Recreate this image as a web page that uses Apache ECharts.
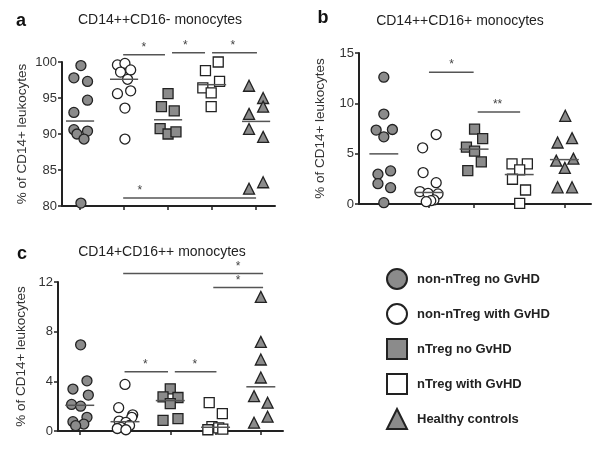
<!DOCTYPE html>
<html>
<head>
<meta charset="utf-8">
<script src="https://cdn.jsdelivr.net/npm/echarts@6/dist/echarts.min.js"></script>
<style>
  html, body { margin: 0; background: #fff; }
  #chart { width: 600px; height: 451px; }
</style>
</head>
<body>
<div id="chart"></div>
<script>
const groups = ['non-nTreg no GvHD', 'non-nTreg with GvHD', 'nTreg no GvHD', 'nTreg with GvHD', 'Healthy controls'];
const groupTicks = [0, 1, 2, 3, 4];

// a: CD14++CD16- monocytes, % of CD14+ leukocytes
const aValues = [
  [99.5, 97.8, 97.3, 94.7, 93.0, 90.6, 90.4, 90.0, 89.3, 80.4],
  [99.6, 99.8, 98.6, 98.9, 97.6, 95.6, 96.0, 93.6, 89.3],
  [95.6, 93.8, 93.2, 90.75, 90.0, 90.3],
  [100.0, 98.8, 97.3, 96.4, 95.7, 93.8],
  [96.7, 95.0, 93.8, 92.8, 90.7, 89.6, 83.3, 82.4]
];
// horizontal spread of the dots around each group, in group units
const aJitter = [
  [0.02, -0.14, 0.17, 0.17, -0.14, -0.14, 0.17, -0.07, 0.09, 0.02],
  [-0.15, 0.02, -0.08, 0.15, 0.08, -0.15, 0.15, 0.02, 0.02],
  [0, -0.15, 0.14, -0.18, 0, 0.18],
  [0.14, -0.15, 0.17, -0.21, -0.02, -0.02],
  [-0.16, 0.16, 0.16, -0.16, -0.16, 0.16, 0.16, -0.16]
];
// [from group, to group, level, star position, label]
const aSig = [
  [0.98, 1.93, 101.0, 1.45, '*'],
  [2.09, 2.84, 101.3, 2.39, '*'],
  [3.0, 4.02, 101.3, 3.47, '*'],
  [0.98, 4.0, 81.1, 1.36, '*']
];

// b: CD14++CD16+ monocytes
const bValues = [
  [12.6, 8.93, 7.34, 7.4, 6.67, 3.29, 2.96, 2.02, 1.62, 0.13],
  [6.9, 5.58, 3.12, 2.12, 1.23, 1.06, 1.0, 0.4, 0.33, 0.23],
  [7.44, 6.5, 5.65, 5.25, 4.18, 3.32],
  [3.98, 3.98, 3.39, 2.46, 1.39, 0.07],
  [8.76, 6.11, 6.54, 4.31, 4.51, 3.59, 1.66, 1.66]
];
const bJitter = [
  [0, 0, -0.17, 0.19, 0, 0.15, -0.13, -0.13, 0.15, 0],
  [0.16, -0.14, -0.13, 0.16, -0.2, -0.02, 0.2, 0.11, 0.04, -0.06],
  [0.01, 0.19, -0.17, 0.01, 0.16, -0.14],
  [-0.16, 0.18, 0.01, -0.15, 0.14, 0.01],
  [0.02, -0.15, 0.17, -0.18, 0.2, 0.01, -0.15, 0.17]
];
const bSig = [
  [1.0, 1.99, 13.1, 1.5, '*'],
  [2.08, 3.02, 9.13, 2.52, '**']
];

// c: CD14+CD16++ monocytes
const cValues = [
  [6.94, 4.04, 3.38, 2.89, 2.14, 2.0, 1.1, 0.75, 0.56, 0.43],
  [3.75, 1.88, 1.3, 1.1, 0.8, 0.7, 0.45, 0.3, 0.2, 0.1],
  [3.4, 2.75, 2.7, 2.2, 1.0, 0.85],
  [2.28, 1.4, 0.35, 0.25, 0.15, 0.1],
  [10.8, 7.18, 5.76, 4.31, 2.81, 2.28, 1.15, 0.67]
];
const cJitter = [
  [0.02, 0.16, -0.15, 0.19, -0.18, 0.02, 0.16, -0.15, 0.09, -0.09],
  [0, -0.14, 0.17, 0.15, -0.13, 0.02, 0.1, -0.09, -0.17, 0.02],
  [0, -0.16, 0.17, 0, 0.17, -0.16],
  [-0.14, 0.15, -0.08, 0.07, 0.16, -0.17],
  [0, 0, 0, 0, -0.15, 0.15, 0.15, -0.15]
];
const cSig = [
  [0.96, 4.05, 12.68, 3.5, '*'],
  [2.95, 4.05, 11.55, 3.5, '*'],
  [0.99, 1.95, 4.77, 1.45, '*'],
  [2.1, 3.02, 4.77, 2.54, '*']
];

const FONT = 'Liberation Sans, Arial, sans-serif';
const symbols = ['circle', 'circle', 'rect', 'rect', 'triangle'];
const fills = ['#8b8b8b', '#ffffff', '#8b8b8b', '#ffffff', '#8b8b8b'];

const median = arr => {
  const s = [...arr].sort((x, y) => x - y);
  const m = Math.floor(s.length / 2);
  return s.length % 2 ? s[m] : (s[m - 1] + s[m]) / 2;
};

const panels = [
  { values: aValues, jitter: aJitter, sig: aSig, min: 80, max: 100, interval: 5,
    grid: { left: 62, top: 62, width: 213, height: 144 }, xMin: -0.41, xMax: 4.43, nameGap: 33 },
  { values: bValues, jitter: bJitter, sig: bSig, min: 0, max: 15, interval: 5,
    grid: { left: 359, top: 53, width: 232, height: 151 }, xMin: -0.55, xMax: 4.59, nameGap: 32 },
  { values: cValues, jitter: cJitter, sig: cSig, min: 0, max: 12, interval: 4,
    grid: { left: 58, top: 282, width: 225, height: 149 }, xMin: -0.48, xMax: 4.49, nameGap: 30 }
];

const axisLine = { show: true, onZero: false, lineStyle: { color: '#222', width: 2 } };
const axisTick = { show: true, length: 4, lineStyle: { color: '#222', width: 1.5 } };

const series = [];
panels.forEach((p, pi) => {
  p.values.forEach((vals, g) => {
    series.push({
      name: groups[g],
      type: 'scatter',
      xAxisIndex: pi,
      yAxisIndex: pi,
      symbol: symbols[g],
      symbolSize: symbols[g] === 'triangle' ? 11 : 10,
      itemStyle: { color: fills[g], borderColor: '#222', borderWidth: 1.3, opacity: 1 },
      emphasis: { disabled: true },
      data: vals.map((v, i) => [g + p.jitter[g][i], v])
    });
  });
  // group medians
  series.push({
    type: 'custom',
    xAxisIndex: pi,
    yAxisIndex: pi,
    z: 5,
    silent: true,
    data: p.values.map((vals, g) => [g, median(vals)]),
    renderItem: (params, api) => {
      const a = api.coord([api.value(0) - 0.32, api.value(1)]);
      const b = api.coord([api.value(0) + 0.32, api.value(1)]);
      return { type: 'line', shape: { x1: a[0], y1: a[1], x2: b[0], y2: b[1] },
        style: { stroke: '#555', lineWidth: 1.5 } };
    }
  });
  // significance bars
  series.push({
    type: 'custom',
    xAxisIndex: pi,
    yAxisIndex: pi,
    z: 5,
    silent: true,
    clip: false,
    encode: { x: [0, 1, 3], y: 2 },
    data: p.sig.map(s => s.slice(0, 4)),
    renderItem: (params, api) => {
      const a = api.coord([api.value(0), api.value(2)]);
      const b = api.coord([api.value(1), api.value(2)]);
      const s = api.coord([api.value(3), api.value(2)]);
      return {
        type: 'group',
        children: [
          { type: 'line', shape: { x1: a[0], y1: a[1], x2: b[0], y2: b[1] },
            style: { stroke: '#555', lineWidth: 1.5 } },
          { type: 'text', x: s[0], y: a[1] - 1,
            style: { text: p.sig[params.dataIndex][4], font: '12px ' + FONT, fill: '#444',
              align: 'center', verticalAlign: 'bottom', textAlign: 'center', textVerticalAlign: 'bottom' } }
        ]
      };
    }
  });
});

const chart = echarts.init(document.getElementById('chart'));

chart.setOption({
  animation: false,
  backgroundColor: '#fff',
  grid: panels.map(p => p.grid),
  xAxis: panels.map((p, pi) => ({
    type: 'value',
    gridIndex: pi,
    min: p.xMin,
    max: p.xMax,
    axisLine: axisLine,
    axisTick: Object.assign({ customValues: groupTicks }, axisTick),
    axisLabel: { show: false },
    splitLine: { show: false }
  })),
  yAxis: panels.map((p, pi) => ({
    type: 'value',
    gridIndex: pi,
    min: p.min,
    max: p.max,
    interval: p.interval,
    name: '% of CD14+ leukocytes',
    nameLocation: 'middle',
    nameGap: p.nameGap,
    nameTextStyle: { fontFamily: FONT, fontSize: 13.5, color: '#333' },
    axisLine: axisLine,
    axisTick: axisTick,
    axisLabel: { fontFamily: FONT, fontSize: 13, color: '#333', margin: 5 },
    splitLine: { show: false }
  })),
  legend: {
    orient: 'vertical',
    left: 381,
    top: 263,
    itemWidth: 20,
    itemHeight: 20,
    itemGap: 13,
    selectedMode: false,
    data: groups,
    textStyle: { fontFamily: FONT, fontSize: 13, fontWeight: 'bold', color: '#222', padding: [0, 0, 0, 5] }
  },
  graphic: [
    { type: 'text', x: 21, y: 21, style: { text: 'a', font: 'bold 18px ' + FONT, fill: '#111', align: 'center', verticalAlign: 'middle' } },
    { type: 'text', x: 160, y: 20, style: { text: 'CD14++CD16- monocytes', font: '14px ' + FONT, fill: '#222', align: 'center', verticalAlign: 'middle' } },
    { type: 'text', x: 323, y: 18, style: { text: 'b', font: 'bold 18px ' + FONT, fill: '#111', align: 'center', verticalAlign: 'middle' } },
    { type: 'text', x: 460, y: 21, style: { text: 'CD14++CD16+ monocytes', font: '14px ' + FONT, fill: '#222', align: 'center', verticalAlign: 'middle' } },
    { type: 'text', x: 22, y: 254, style: { text: 'c', font: 'bold 18px ' + FONT, fill: '#111', align: 'center', verticalAlign: 'middle' } },
    { type: 'text', x: 162, y: 252, style: { text: 'CD14+CD16++ monocytes', font: '14px ' + FONT, fill: '#222', align: 'center', verticalAlign: 'middle' } }
  ],
  series: series
});
</script>
</body>
</html>
